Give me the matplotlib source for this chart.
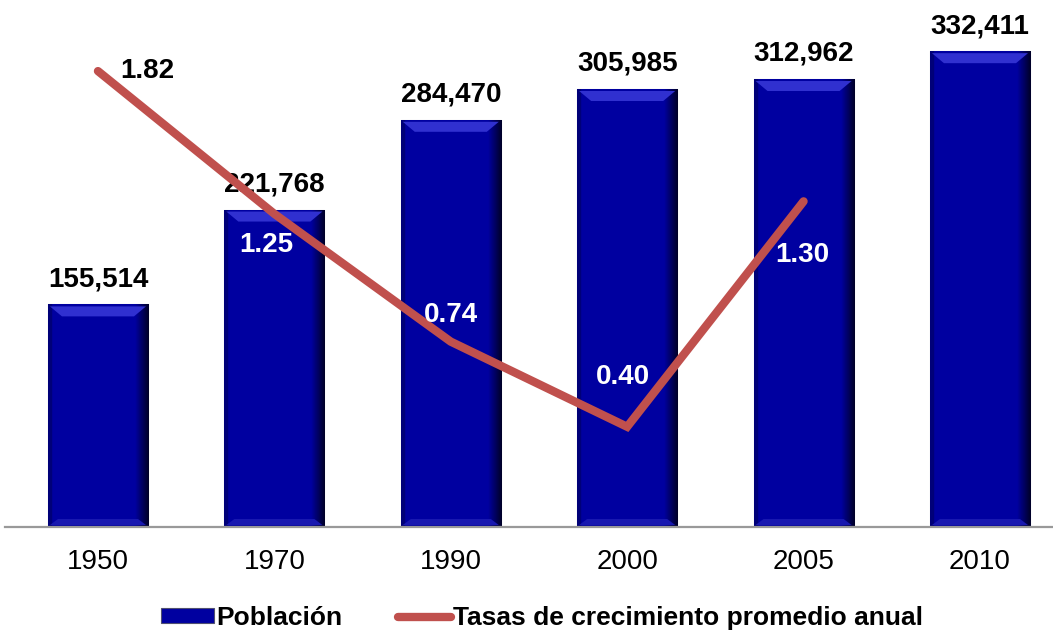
import numpy as np
import matplotlib.pyplot as plt
from matplotlib.patches import Polygon
from matplotlib.lines import Line2D
from matplotlib.patches import Patch

plt.rcParams['font.family'] = ['Liberation Sans', 'DejaVu Sans']

# data
years = ['1950', '1970', '1990', '2000', '2005', '2010']
poblacion = [155514, 221768, 284470, 305985, 312962, 332411]
tasas = [1.82, 1.25, 0.74, 0.40, 1.30]
tasas_labels = ['1.82', '1.25', '0.74', '0.40', '1.30']

# label offsets (pixels) and colours for the growth rate labels
tasa_offsets = [(49, 0), (-8, -31), (0, 27), (-4, 50), (-1, -54)]
tasa_colors = ['black', 'white', 'white', 'white', 'white']

bar_color = '#0000A0'
line_color = '#C0504D'

fig = plt.figure(figsize=(10.53, 6.30), dpi=100)
ax = fig.add_axes([5/1053, 103/630, 1048/1053, 501/630])
ax2 = ax.twinx()

x = np.arange(len(years))
xmin, xmax = -0.527, 5.414
ymax = 350000
px_x = (xmax - xmin) / 1048.0
px_y = ymax / 501.0

bars = ax.bar(x, poblacion, width=0.567, color=bar_color, edgecolor='#A8A8B8', linewidth=0.8, zorder=2)

# bevel look on every bar
t = np.linspace(0, 1, 120)
fac = np.ones_like(t)
fac[t > 0.86] = np.linspace(1.0, 0.25, (t > 0.86).sum())
fac[t < 0.04] = 0.75
grad = np.zeros((1, len(t), 3))
grad[0, :, 2] = 0.63 * fac
for b in bars:
    x0 = b.get_x()
    x1 = x0 + b.get_width()
    h = b.get_height()
    im = ax.imshow(grad, extent=(x0, x1, 0, h), aspect='auto', zorder=2.1, interpolation='bilinear')
    im.set_clip_path(b)
    top = Polygon([(x0 + 2*px_x, h - 2*px_y), (x1 - 2*px_x, h - 2*px_y),
                   (x1 - 14*px_x, h - 12*px_y), (x0 + 14*px_x, h - 12*px_y)],
                  closed=True, facecolor='#3030D0', edgecolor='none', zorder=2.2)
    ax.add_patch(top)
    bot = Polygon([(x0 + 2*px_x, 2*px_y), (x1 - 2*px_x, 2*px_y),
                   (x1 - 10*px_x, 8*px_y), (x0 + 10*px_x, 8*px_y)],
                  closed=True, facecolor='#1818B0', edgecolor='none', zorder=2.2)
    ax.add_patch(bot)
    ax.annotate(f'{int(h):,}', (b.get_x() + b.get_width()/2, h), xytext=(0, 13),
                textcoords='offset points', ha='center', va='baseline',
                fontsize=20, fontweight='bold', color='black', zorder=5)

ax.set_xlim(xmin, xmax)
ax.set_ylim(0, ymax)
ax.set_xticks(x)
ax.set_xticklabels(years, fontsize=20)
ax.tick_params(axis='x', length=0, pad=16)
ax.set_yticks([])
for s in ['top', 'left', 'right']:
    ax.spines[s].set_visible(False)
ax.spines['bottom'].set_color('#999999')
ax.spines['bottom'].set_linewidth(1.6)
ax.spines['bottom'].set_zorder(3)

ax2.plot(x[:len(tasas)], tasas, color=line_color, linewidth=6, solid_capstyle='round',
         solid_joinstyle='miter', zorder=4)
ax2.set_ylim(0, 2.0)
ax2.set_yticks([])
for s in ['top', 'left', 'right', 'bottom']:
    ax2.spines[s].set_visible(False)
for i, v in enumerate(tasas):
    dx, dy = tasa_offsets[i]
    ax2.annotate(tasas_labels[i], (x[i], v), xytext=(dx * 0.72, dy * 0.72),
                 textcoords='offset points', ha='center', va='center',
                 fontsize=20, fontweight='bold', color=tasa_colors[i], zorder=6)

handles = [Patch(facecolor=bar_color, edgecolor='#505070', linewidth=0.8),
           Line2D([0], [0], color=line_color, linewidth=6, solid_capstyle='round')]
fig.legend(handles, ['Población', 'Tasas de crecimiento promedio anual'],
           loc='center', bbox_to_anchor=(0.515, 0.019), ncol=2, frameon=False,
           prop={'size': 19, 'weight': 'bold'}, handlelength=2.0, handleheight=0.5,
           handletextpad=0.1, columnspacing=2.1)

fig.savefig('out.png', dpi=100)
